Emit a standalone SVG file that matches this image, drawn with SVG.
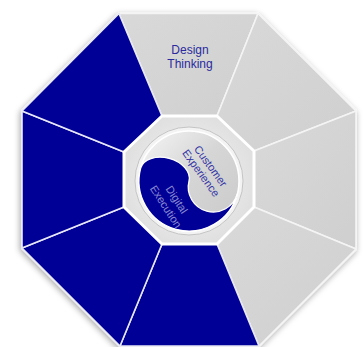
<svg xmlns="http://www.w3.org/2000/svg" width="364" height="347" viewBox="0 0 364 347">
<defs>
<filter id="shadow" x="-10%" y="-10%" width="120%" height="120%">
<feDropShadow dx="-1" dy="2" stdDeviation="3" flood-color="#000" flood-opacity="0.35"/>
</filter>
<radialGradient id="innerGrad" cx="50%" cy="50%" r="60%">
<stop offset="0%" stop-color="#f6f6f6"/>
<stop offset="100%" stop-color="#dcdcdc"/>
</radialGradient>
<linearGradient id="grayGrad" x1="0" y1="0" x2="1" y2="1">
<stop offset="0%" stop-color="#d9d9d9"/>
<stop offset="100%" stop-color="#cfcfcf"/>
</linearGradient>
<linearGradient id="yinGrad" x1="0.15" y1="0.15" x2="0.85" y2="0.85">
<stop offset="0%" stop-color="#ececec"/>
<stop offset="45%" stop-color="#d6d6d6"/>
<stop offset="100%" stop-color="#cdcdcd"/>
</linearGradient>
</defs>
<style>
.blue{fill:#000096;stroke:#e8e8f4;stroke-width:1.6;stroke-linejoin:round}
.gray{fill:url(#grayGrad);stroke:#f4f4f4;stroke-width:1.6;stroke-linejoin:round}
.lbl{font-family:"Liberation Sans",Arial,sans-serif;text-anchor:middle}
.dark{fill:#2a2a9e;font-size:12px}
.inn{font-size:11px}
</style>
<rect width="364" height="347" fill="#ffffff"/>
<g filter="url(#shadow)">
<polygon points="119,13.5 258,13.5 356,111 356,249 259,346 120,346 22,248 22,111" fill="#f0f0f0" stroke="#f8f8f8" stroke-width="2"/>
</g>
<g id="design-thinking">
<polygon class="gray" points="119,13.5 258,13.5 217,116 162,116"/>
<text class="lbl dark" x="190" y="54">Design</text>
<text class="lbl dark" x="190" y="68">Thinking</text>
</g>
<g id="seg-top-right"><polygon class="gray" points="258,13.5 356,111 254,151 217,116"/></g>
<g id="seg-right"><polygon class="gray" points="356,111 356,249 254,207 254,151"/></g>
<g id="seg-bottom-right"><polygon class="gray" points="356,249 259,346 217,244 254,207"/></g>
<g id="seg-bottom"><polygon class="blue" points="259,346 120,346 162,244 217,244"/></g>
<g id="seg-bottom-left"><polygon class="blue" points="120,346 22,248 124,207 162,244"/></g>
<g id="seg-left"><polygon class="blue" points="22,248 22,111 124,152 124,207"/></g>
<g id="seg-top-left"><polygon class="blue" points="22,111 119,13.5 162,116 124,152"/></g>
<g id="core">
<polygon points="162,116 217,116 254,151 254,207 217,244 162,244 124,207 124,152" fill="url(#innerGrad)" stroke="#ffffff" stroke-width="3" stroke-linejoin="round"/>
<circle cx="189" cy="181" r="54" fill="#f3f3f3" stroke="#c4c4c4" stroke-width="1"/>
</g>
<g id="customer-experience">
<circle cx="189" cy="181" r="50" fill="url(#yinGrad)" stroke="#ffffff" stroke-width="1.5"/>
<text class="lbl inn" fill="#3434a6" transform="translate(206,169.5) rotate(54)"><tspan x="0" y="-2">Customer</tspan><tspan x="0" y="10">Experience</tspan></text>
</g>
<g id="digital-execution">
<path d="M140.7 168.1 A50 50 0 0 0 176.05 229.3 A50 50 0 0 0 237.3 193.9 A25 25 0 0 1 189 181 A25 17 15 0 0 140.7 168.1 Z" fill="#000096" stroke="#ffffff" stroke-width="1.3"/>
<text class="lbl inn" fill="#8a8ad2" transform="translate(171.5,203) rotate(57)"><tspan x="0" y="-2.5">Digital</tspan><tspan x="0" y="10.5">Execution</tspan></text>
</g>
</svg>
